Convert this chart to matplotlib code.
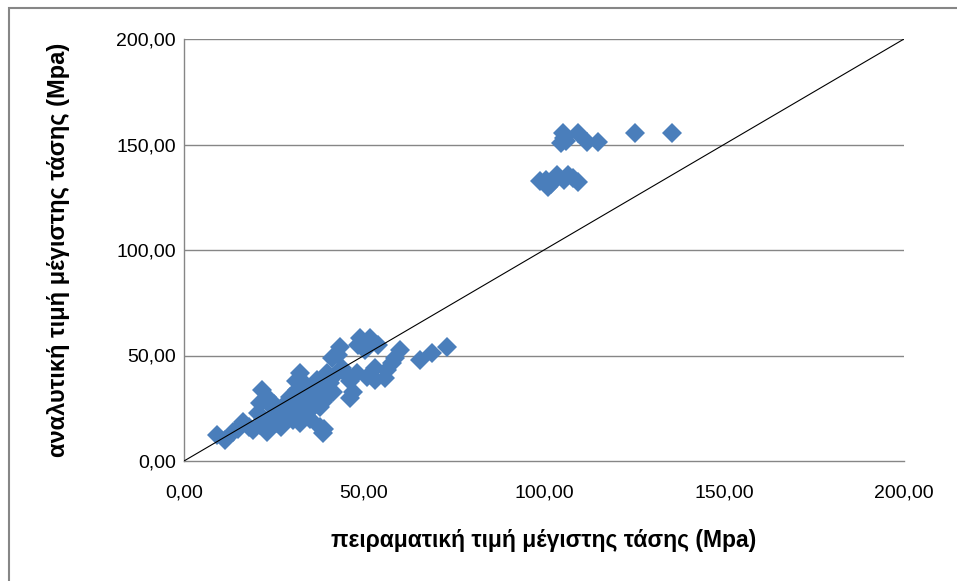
import numpy as np
import matplotlib.pyplot as plt
from matplotlib.patches import Rectangle
from matplotlib.ticker import FuncFormatter

# experimental (x) vs analytical (y) maximum stress, MPa
exp_high = [105.3, 109.4, 125.3, 135.6, 104.8, 106.2, 112.0, 115.0, 105.5,
            98.9, 101.1, 103.6, 106.7, 109.4, 108.0, 100.5, 102.0, 105.5]
ana_high = [155.5, 155.5, 155.5, 155.5, 150.5, 151.5, 151.0, 151.0, 153.0,
            132.5, 130.0, 135.5, 135.5, 132.0, 134.0, 133.0, 131.5, 133.0]

exp_low = [73.0, 68.9, 65.6, 60.0, 58.6, 57.8, 56.4, 53.0, 55.8, 53.0, 50.8,
           48.9, 51.7, 53.9, 48.3, 50.3,
           43.3, 42.8, 41.0,
           32.2, 36.9, 39.7, 42.5, 45.3, 48.0, 40.6, 44.0, 46.0,
           47.0, 46.1,
           41.4, 39.7, 38.5, 37.8,
           37.8, 38.6, 39.0,
           21.7, 23.0, 21.1, 24.4, 20.6,
           31.4, 29.4,
           27.5, 30.3, 32.2, 34.2, 35.8, 34.2, 25.8, 26.0, 28.0, 30.0, 27.0,
           22.0, 25.0, 34.0, 31.0, 36.0, 38.0, 33.0, 29.0,
           9.2, 11.4, 13.6, 16.4, 19.2, 23.0, 18.0, 21.0, 15.0,
           24.0, 28.5, 32.0, 35.0, 36.5, 33.5, 30.5]
ana_low = [54.0, 51.2, 47.9, 52.6, 48.8, 46.4, 43.1, 44.1, 39.3, 38.4, 39.8,
           58.3, 58.3, 55.0, 55.0, 52.6,
           54.0, 50.2, 48.8,
           41.7, 38.4, 41.7, 41.7, 40.8, 41.7, 37.0, 44.0, 38.0,
           32.7, 29.9,
           32.7, 30.3, 28.0, 25.6,
           16.1, 13.3, 15.0,
           33.6, 30.3, 27.5, 25.6, 22.7,
           33.6, 30.3,
           24.2, 19.4, 18.0, 22.7, 25.6, 28.9, 18.0, 21.0, 27.0, 25.0, 16.0,
           20.0, 27.0, 36.0, 38.0, 33.0, 35.0, 30.0, 22.0,
           12.3, 10.0, 13.7, 18.5, 14.7, 13.7, 16.0, 17.0, 15.0,
           20.0, 22.0, 25.0, 20.0, 29.0, 31.0, 27.0]

x_vals = exp_low + exp_high
y_vals = ana_low + ana_high
ticks = [0, 50, 100, 150, 200]

plt.rcParams['font.family'] = ['Liberation Sans', 'DejaVu Sans']

fig = plt.figure(figsize=(9.57, 5.81), dpi=100)
fig.patches.append(Rectangle((9 / 957, -0.1), 1.2, 1 - 8 / 581 + 0.1,
                             transform=fig.transFigure, fill=False,
                             edgecolor='#868686', linewidth=1.5))

ax = fig.add_axes([184 / 957, 1 - 461 / 581, 720 / 957, 422 / 581])
ax.set_xlim(0, 200)
ax.set_ylim(0, 200)
ax.set_xticks(ticks)
ax.set_yticks(ticks)
fmt = FuncFormatter(lambda v, p: f'{v:.2f}'.replace('.', ','))
ax.xaxis.set_major_formatter(fmt)
ax.yaxis.set_major_formatter(fmt)

for t in ticks[1:]:
    ax.axhline(t, color='#868686', linewidth=1.0, zorder=0)

ax.plot([0, 200], [0, 200], color='black', linewidth=0.8, zorder=3)
ax.plot(x_vals, y_vals, linestyle='none', marker='D', markersize=10.5,
        color='#4A7EBB', markeredgewidth=0, zorder=2)

for s in ['top', 'right']:
    ax.spines[s].set_visible(False)
for s in ['left', 'bottom']:
    ax.spines[s].set_color('#868686')
    ax.spines[s].set_linewidth(1.0)
ax.tick_params(length=0, labelsize=14, colors='black')
ax.tick_params(axis='y', pad=6)
ax.tick_params(axis='x', pad=17)

ax.set_xlabel('πειραματική τιμή μέγιστης τάσης (Mpa)', fontsize=16.5,
              fontweight='bold')
ax.set_ylabel('αναλυτική τιμή μέγιστης τάσης (Mpa)', fontsize=17,
              fontweight='bold')
ax.xaxis.set_label_coords(0.5, -0.16)
ax.yaxis.set_label_coords(-0.158, 0.5)

fig.savefig('out.png', dpi=100)
